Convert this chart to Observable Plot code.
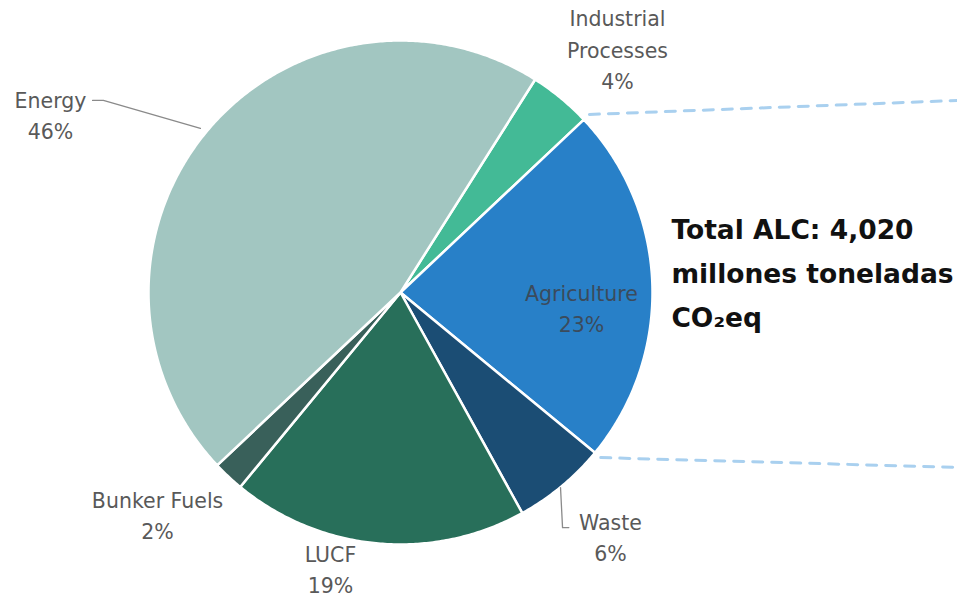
<!DOCTYPE html>
<html>
<head>
<meta charset="utf-8">
<script src="https://cdn.jsdelivr.net/npm/d3@7"></script>
<script src="https://cdn.jsdelivr.net/npm/@observablehq/plot@0.6"></script>
<style>
  html, body { margin: 0; padding: 0; background: #fff; }
  #chart svg { display: block; }
</style>
</head>
<body>
<div id="chart"></div>
<script>
// ---- data ----
const categories = ["Industrial Processes", "Agriculture", "Waste", "LUCF", "Bunker Fuels", "Energy"];
const shares = [4, 23, 6, 19, 2, 46];
const colors = ["#43ba96", "#2880c8", "#1b4d74", "#286f5a", "#39605a", "#a2c6c1"];
const labelTexts = ["Industrial\nProcesses\n4%", "Agriculture\n23%", "Waste\n6%", "LUCF\n19%", "Bunker Fuels\n2%", "Energy\n46%"];
const totalText = "Total ALC: 4,020\nmillones toneladas\nCO₂eq";

// ---- layout (units of pie radius, y down, centre at 0,0) ----
const startDeg = 32.3;
const labelPos = [[0.861, -0.972], [0.718, 0.054], [0.833, 0.965], [-0.278, 1.090], [-0.964, 0.876], [-1.389, -0.711]];
const labelColor = ["#595959", "#3b4b5c", "#595959", "#595959", "#595959", "#595959"];
const frameBox = {type: "MultiPoint", coordinates: [[-1.5873, -1.1587], [2.2103, 1.2222]]};

const rad = d => d * Math.PI / 180;
const pt = (deg, r = 1) => [r * Math.sin(rad(deg)), -r * Math.cos(rad(deg))];

const total = d3.sum(shares);
let acc = startDeg;
const slices = categories.map((c, i) => {
  const a0 = acc, a1 = acc + shares[i] / total * 360;
  acc = a1;
  const ring = [[0, 0]];
  const n = Math.max(4, Math.ceil((a1 - a0) / 0.5));
  for (let k = 0; k <= n; k++) ring.push(pt(a0 + (a1 - a0) * k / n));
  ring.push([0, 0]);
  return {type: "Feature", properties: {name: c, color: colors[i], a0, a1}, geometry: {type: "Polygon", coordinates: [ring]}};
});

const labels = categories.map((c, i) => ({text: labelTexts[i], x: labelPos[i][0], y: labelPos[i][1], color: labelColor[i]}));

// leader lines
const agr = slices[1].properties;
const leaders = [
  {type: "LineString", coordinates: [[-1.222, -0.762], [-1.179, -0.762], [-0.794, -0.651]]},
  {type: "LineString", coordinates: [[0.635, 0.774], [0.643, 0.933], [0.668, 0.933]]}
];
const callouts = [
  {type: "LineString", coordinates: [pt(agr.a0, 1.03), [2.2103, -0.762]]},
  {type: "LineString", coordinates: [pt(agr.a1, 1.03), [2.2103, 0.694]]}
];

const chart = Plot.plot({
  width: 957,
  height: 600,
  margin: 0,
  projection: {type: "identity", domain: frameBox},
  style: {fontFamily: "'DejaVu Sans', sans-serif"},
  marks: [
    Plot.geo(slices, {fill: d => d.properties.color, stroke: "white", strokeWidth: 2.5}),
    Plot.geo(callouts, {stroke: "#a9d0ef", strokeWidth: 3, strokeDasharray: "10,9"}),
    Plot.geo(leaders, {stroke: "#8a8a8a", strokeWidth: 1.3}),
    Plot.text(labels, {x: "x", y: "y", text: "text", fill: "color", fontSize: 20.5, lineHeight: 1.52, textAnchor: "middle"}),
    Plot.text([totalText], {x: () => 1.075, y: () => -0.094, text: d => d, textAnchor: "start", fontSize: 26.5, fontWeight: "bold", fill: "#111", lineHeight: 1.66})
  ]
});
document.getElementById("chart").append(chart);
</script>
</body>
</html>
